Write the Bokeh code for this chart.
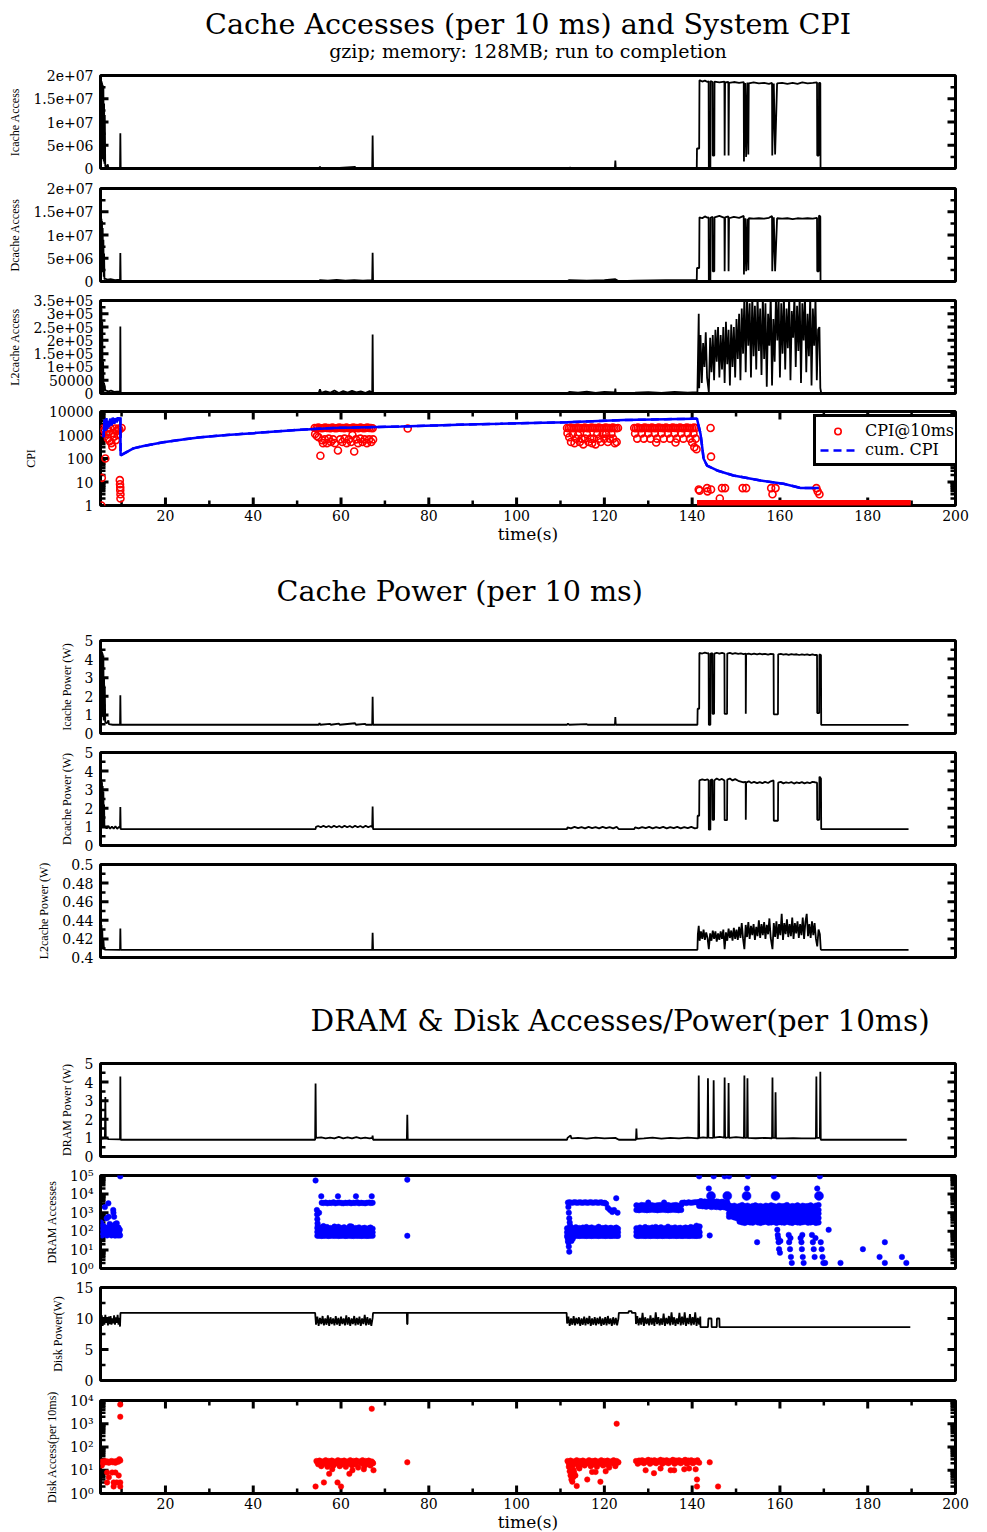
from bokeh.plotting import figure
from bokeh.layouts import column
from bokeh.models import Range1d, FixedTicker, Title, Legend, LegendItem, CustomJSTickFormatter
from bokeh.embed import file_html
from bokeh.resources import INLINE

# ------------------------------------------------------------------ axes data
X_RANGE = (5.2, 200.0)
X_TICKS = [20, 40, 60, 80, 100, 120, 140, 160, 180, 200]
X_MINOR = [10, 30, 50, 70, 90, 110, 130, 150, 170, 190]
X_LABELS = ["20", "40", "60", "80", "100", "120", "140", "160", "180", "200"]

ACC_TICKS = [0, 5e6, 1e7, 1.5e7, 2e7]
ACC_LABELS = ["0", "5e+06", "1e+07", "1.5e+07", "2e+07"]
ACC_MINOR = [2.5e6, 7.5e6, 1.25e7, 1.75e7]
L2_TICKS = [0, 5e4, 1e5, 1.5e5, 2e5, 2.5e5, 3e5, 3.5e5]
L2_LABELS = ["0", "50000", "1e+05", "1.5e+05", "2e+05", "2.5e+05", "3e+05", "3.5e+05"]
L2_MINOR = [2.5e4, 7.5e4, 1.25e5, 1.75e5, 2.25e5, 2.75e5, 3.25e5]
CPI_TICKS = [1, 10, 100, 1000, 10000]
CPI_LABELS = ["1", "10", "100", "1000", "10000"]
LOG_MINOR = [2, 3, 4, 5, 6, 7, 8, 9, 20, 30, 40, 50, 60, 70, 80, 90,
             200, 300, 400, 500, 600, 700, 800, 900, 2000, 3000, 4000, 5000,
             6000, 7000, 8000, 9000, 20000, 30000, 40000, 50000, 60000, 70000,
             80000, 90000]
PW_TICKS = [0, 1, 2, 3, 4, 5]
PW_LABELS = ["0", "1", "2", "3", "4", "5"]
PW_MINOR = [0.5, 1.5, 2.5, 3.5, 4.5]
L2PW_TICKS = [0.4, 0.42, 0.44, 0.46, 0.48, 0.5]
L2PW_LABELS = ["0.4", "0.42", "0.44", "0.46", "0.48", "0.5"]
L2PW_MINOR = [0.41, 0.43, 0.45, 0.47, 0.49]
DRACC_TICKS = [1, 10, 100, 1000, 10000, 100000]
DRACC_LABELS = ["10\u2070", "10\u00b9", "10\u00b2", "10\u00b3", "10\u2074", "10\u2075"]
DKPW_TICKS = [0, 5, 10, 15]
DKPW_LABELS = ["0", "5", "10", "15"]
DKPW_MINOR = [2.5, 7.5, 12.5]
DKACC_TICKS = [1, 10, 100, 1000, 10000]
DKACC_LABELS = ["10\u2070", "10\u00b9", "10\u00b2", "10\u00b3", "10\u2074"]

# ------------------------------------------------------------------ series (time s, value)
ICACHE_ACC = [
    (5.30, 1.92e7), (5.36, 3.0e6), (5.42, 1.88e7), (5.48, 5.0e6), (5.55, 1.85e7), (5.62, 2.0e6),
    (5.70, 1.80e7), (5.78, 4.0e6), (5.86, 1.75e7), (5.94, 1.5e6), (6.02, 1.40e7), (6.10, 1.0e6),
    (6.18, 1.15e7), (6.28, 5.0e5), (6.50, 3.0e5), (6.85, 9.0e5), (7.00, 2.0e5), (7.40, 1.0e5),
    (8.50, 1.0e5), (9.65, 1.0e5), (9.72, 7.6e6), (9.80, 5.0e4), (55.0, 5.0e4), (55.2, 4.0e5),
    (55.4, 5.0e4), (58.5, 1.2e5), (58.7, 5.0e4), (63.2, 3.5e5), (63.4, 5.0e4), (67.1, 1.0e5),
    (67.2, 7.1e6), (67.3, 5.0e4), (112.0, 5.0e4), (112.2, 2.0e5), (112.4, 5.0e4), (117.5, 1.5e5),
    (117.7, 5.0e4), (122.4, 1.0e5), (122.5, 1.7e6), (122.6, 5.0e4), (141.05, 1.0e5), (141.1, 4.3e6),
    (141.6, 4.3e6), (141.67, 1.90e7), (142.3, 1.87e7), (142.9, 1.89e7), (143.5, 1.86e7),
    (143.75, 1.88e7), (143.8, 0.0), (144.15, 0.0), (144.2, 1.88e7), (144.65, 1.86e7), (144.7, 2.8e6),
    (145.05, 2.8e6), (145.1, 1.87e7), (146.2, 1.85e7), (147.35, 1.87e7), (147.4, 2.8e6),
    (147.5, 1.85e7), (148.25, 1.86e7), (148.3, 2.8e6), (148.4, 1.84e7), (149.5, 1.86e7),
    (150.7, 1.84e7), (151.75, 1.86e7), (151.8, 1.5e6), (152.1, 1.84e7), (152.3, 2.5e6),
    (152.6, 1.85e7), (152.8, 3.0e6), (152.9, 1.83e7), (154.0, 1.85e7), (155.2, 1.83e7),
    (156.4, 1.84e7), (157.5, 1.82e7), (158.2, 1.84e7), (158.25, 2.8e6), (158.6, 1.83e7),
    (158.9, 3.0e6), (159.35, 1.83e7), (160.5, 1.84e7), (161.7, 1.82e7), (162.9, 1.84e7),
    (164.0, 1.82e7), (165.1, 1.85e7), (166.3, 1.83e7), (167.5, 1.84e7), (168.45, 1.85e7),
    (168.5, 2.8e6), (168.85, 2.8e6), (168.9, 1.84e7), (169.2, 1.84e7), (169.25, 0.0), (189.5, 0.0),
]

DCACHE_ACC = [
    (5.30, 1.37e7), (5.36, 3.0e6), (5.42, 1.35e7), (5.48, 5.0e6), (5.55, 1.30e7), (5.62, 2.0e6),
    (5.70, 1.15e7), (5.78, 3.0e6), (5.86, 9.0e6), (5.94, 1.0e6), (6.02, 6.0e6), (6.10, 5.0e5),
    (6.30, 6.0e5), (6.80, 4.0e5), (7.50, 5.0e5), (8.50, 3.0e5), (9.65, 4.0e5), (9.72, 6.1e6),
    (9.80, 5.0e4), (54.9, 5.0e4), (55.2, 3.0e5), (57.0, 2.0e5), (59.0, 3.5e5), (61.0, 2.0e5),
    (63.0, 3.0e5), (65.0, 2.0e5), (67.1, 3.0e5), (67.2, 6.2e6), (67.3, 5.0e4), (111.5, 5.0e4),
    (112.0, 3.0e5), (116.0, 2.0e5), (120.0, 3.0e5), (122.5, 5.0e5), (123.3, 5.0e4), (127.0, 2.0e5),
    (134.0, 3.0e5), (141.05, 3.0e5), (141.1, 2.9e6), (141.6, 2.9e6), (141.67, 1.38e7),
    (142.3, 1.36e7), (142.9, 1.40e7), (143.5, 1.37e7), (143.75, 1.38e7), (143.8, 0.0),
    (144.15, 0.0), (144.2, 1.37e7), (144.65, 1.39e7), (144.7, 2.2e6), (145.05, 2.2e6),
    (145.1, 1.38e7), (146.2, 1.41e7), (147.35, 1.37e7), (147.4, 2.2e6), (147.5, 1.38e7),
    (148.25, 1.40e7), (148.3, 2.2e6), (148.4, 1.36e7), (149.5, 1.39e7), (150.7, 1.37e7),
    (151.75, 1.41e7), (151.8, 1.5e6), (152.1, 1.36e7), (152.3, 2.2e6), (152.6, 1.35e7),
    (152.8, 2.4e6), (152.9, 1.36e7), (154.0, 1.35e7), (155.2, 1.36e7), (156.4, 1.35e7),
    (157.5, 1.37e7), (158.2, 1.41e7), (158.25, 2.2e6), (158.6, 1.38e7), (158.9, 2.2e6),
    (159.35, 1.36e7), (160.5, 1.35e7), (161.7, 1.36e7), (162.9, 1.34e7), (164.0, 1.36e7),
    (165.1, 1.35e7), (166.3, 1.36e7), (167.5, 1.35e7), (168.45, 1.37e7), (168.5, 2.2e6),
    (168.85, 2.2e6), (168.9, 1.42e7), (169.2, 1.40e7), (169.25, 0.0), (189.5, 0.0),
]

L2_ACC = [
    (5.30, 3.3e5), (5.36, 1.0e4), (5.42, 3.2e5), (5.50, 5.0e3), (5.60, 2.7e5), (5.70, 1.0e4),
    (5.80, 1.2e5), (5.90, 5.0e3), (6.00, 4.0e4), (6.30, 1.2e4), (7.00, 8.0e3), (7.60, 1.1e4),
    (8.30, 6.0e3), (9.65, 8.0e3), (9.72, 2.52e5), (9.80, 1.0e3), (54.9, 1.0e3), (55.2, 1.6e4),
    (55.5, 2.0e3), (56.5, 8.0e3), (57.5, 3.0e3), (58.5, 1.1e4), (59.5, 2.0e3), (60.5, 9.0e3),
    (61.5, 3.0e3), (62.5, 1.0e4), (63.5, 4.0e3), (64.5, 8.0e3), (65.5, 2.0e3), (66.5, 9.0e3),
    (67.1, 3.0e3), (67.2, 2.22e5), (67.3, 1.0e3), (111.5, 1.0e3), (112.0, 6.0e3), (114.0, 3.0e3),
    (116.0, 7.0e3), (118.0, 2.0e3), (120.0, 6.0e3), (122.4, 4.0e3), (122.5, 1.8e4), (122.6, 2.0e3),
    (123.3, 1.0e3), (127.0, 3.0e3), (130.0, 5.0e3), (133.0, 2.0e3), (136.0, 6.0e3), (139.0, 3.0e3),
    (141.2, 5.0e3), (141.5, 3.0e5), (141.6, 2.0e4), (141.9, 2.2e5), (142.2, 4.0e4), (142.5, 1.9e5),
    (142.8, 1.0e5), (143.1, 2.3e5), (143.4, 6.0e4), (143.8, 5.0e3), (144.1, 2.1e5), (144.4, 8.0e4),
    (144.7, 2.2e5), (145.0, 5.0e4), (145.3, 2.4e5), (145.6, 1.2e5), (145.9, 2.5e5), (146.2, 6.0e4),
    (146.5, 2.2e5), (146.8, 9.0e4), (147.1, 2.5e5), (147.4, 4.0e4), (147.7, 2.7e5), (148.0, 1.1e5),
    (148.3, 2.4e5), (148.6, 3.0e4), (148.9, 2.6e5), (149.2, 1.0e5), (149.5, 2.5e5), (149.8, 6.0e4),
    (150.1, 2.8e5), (150.4, 1.3e5), (150.7, 3.0e5), (151.0, 5.0e4), (151.3, 3.2e5), (151.6, 1.5e5),
    (151.9, 3.7e5), (152.2, 8.0e4), (152.5, 3.6e5), (152.8, 1.8e5), (153.1, 3.4e5), (153.4, 6.0e4),
    (153.7, 3.7e5), (154.0, 1.4e5), (154.3, 3.3e5), (154.6, 9.0e4), (154.9, 3.7e5), (155.2, 1.6e5),
    (155.5, 3.2e5), (155.8, 7.0e4), (156.1, 3.7e5), (156.4, 1.3e5), (156.7, 3.4e5), (157.0, 2.5e4),
    (157.3, 3.0e5), (157.6, 1.8e5), (157.9, 3.7e5), (158.2, 3.0e4), (158.5, 2.8e5), (158.8, 1.2e5),
    (159.1, 3.7e5), (159.4, 2.0e5), (159.7, 3.6e5), (160.0, 6.0e4), (160.3, 3.4e5), (160.6, 1.5e5),
    (160.9, 3.7e5), (161.2, 9.0e4), (161.5, 3.2e5), (161.8, 1.7e5), (162.1, 3.7e5), (162.4, 5.0e4),
    (162.7, 3.1e5), (163.0, 2.1e5), (163.3, 3.7e5), (163.6, 1.0e5), (163.9, 3.3e5), (164.2, 1.6e5),
    (164.5, 3.7e5), (164.8, 4.0e4), (165.1, 3.4e5), (165.4, 2.0e5), (165.7, 3.7e5), (166.0, 8.0e4),
    (166.3, 3.0e5), (166.6, 1.4e5), (166.9, 3.7e5), (167.2, 3.0e4), (167.5, 3.2e5), (167.8, 1.8e5),
    (168.1, 3.6e5), (168.4, 5.0e4), (168.7, 2.4e5), (169.0, 2.5e5), (169.2, 2.0e4), (169.4, 2.0e3),
    (189.5, 2.0e3),
]

CPI_CUM = [
    (5.9, 800), (6.1, 4500), (6.3, 1500), (6.5, 5200), (6.7, 1800), (6.9, 4000), (7.1, 2200),
    (7.4, 5000), (7.7, 2600), (8.0, 5500), (8.3, 3000), (8.6, 5200), (8.9, 3500), (9.2, 5600),
    (9.5, 4200), (9.72, 5600), (9.78, 135), (10.5, 160), (12.7, 270), (15.0, 340), (19.5, 490),
    (24.0, 650), (28.0, 800), (34.0, 1000), (40.0, 1200), (50.0, 1650), (58.3, 2000), (66.0, 2150),
    (73.6, 2300), (88.8, 2800), (96.3, 3000), (111.5, 3500), (124.4, 4300), (134.0, 4700),
    (140.4, 4900), (141.1, 4900), (141.9, 1130), (142.3, 300), (142.6, 100), (143.4, 50),
    (145.7, 31), (149.4, 19), (155.6, 11.5), (160.8, 8.4), (164.7, 5.6), (168.8, 5.6),
]

CPI_10MS = [
    # start-up
    (5.4, 1), (5.5, 15), (5.6, 1300), (5.8, 1900), (6.0, 1600), (6.3, 100), (6.5, 1100), (6.7, 1900),
    (6.9, 700), (7.1, 1400), (7.3, 550), (7.5, 1900), (7.7, 450), (7.9, 320), (8.1, 1200), (8.3, 850),
    (8.5, 1900), (8.7, 600), (8.9, 1500), (9.1, 1000), (9.3, 1900), (9.5, 1700), (9.6, 12), (9.65, 8),
    (9.7, 6), (9.7, 4.5), (9.75, 3), (9.75, 2), (10.0, 2000),
    # 54-67 s band
    (54.0, 2000), (54.4, 1950), (54.8, 2050), (55.2, 2000), (55.6, 1950), (56.0, 2000), (56.4, 2050),
    (56.8, 1980), (57.2, 2000), (57.6, 1950), (58.0, 2050), (58.4, 2000), (58.8, 1950), (59.2, 2000),
    (59.6, 2050), (60.0, 1980), (60.4, 2000), (60.8, 1950), (61.2, 2050), (61.6, 2000), (62.0, 1950),
    (62.4, 2000), (62.8, 2050), (63.2, 1980), (63.6, 2000), (64.0, 1950), (64.4, 2050), (64.8, 2000),
    (65.2, 1950), (65.6, 2000), (66.0, 2050), (66.4, 1980), (66.8, 2000), (67.2, 1950),
    (54.1, 1100), (54.5, 900), (54.9, 800), (55.3, 130), (55.7, 600), (55.9, 450), (56.3, 650),
    (56.8, 450), (57.2, 700), (57.7, 500), (58.2, 650), (58.6, 450), (59.3, 220), (59.8, 650),
    (60.3, 500), (60.8, 700), (61.3, 450), (61.8, 650), (62.3, 500), (62.6, 1000), (63.0, 200),
    (63.4, 650), (63.9, 450), (64.4, 700), (64.9, 500), (65.4, 650), (65.9, 450), (66.4, 650),
    (66.9, 500), (67.3, 650), (75.2, 1900),
    # 111-123 s band
    (111.5, 2000), (111.9, 1950), (112.3, 2050), (112.7, 2000), (113.1, 1950), (113.5, 2000),
    (113.9, 2050), (114.3, 1980), (114.7, 2000), (115.1, 1950), (115.5, 2050), (115.9, 2000),
    (116.3, 1950), (116.7, 2000), (117.1, 2050), (117.5, 1980), (117.9, 2000), (118.3, 1950),
    (118.7, 2050), (119.1, 2000), (119.5, 1950), (119.9, 2000), (120.3, 2050), (120.7, 1980),
    (121.1, 2000), (121.5, 1950), (121.9, 2050), (122.3, 2000), (122.7, 1950), (123.1, 2000),
    (111.6, 1200), (112.0, 800), (112.4, 500), (112.8, 1100), (113.2, 450), (113.6, 700),
    (114.0, 1000), (114.4, 500), (114.8, 700), (115.2, 400), (115.6, 700), (116.0, 1100),
    (116.4, 500), (116.8, 700), (117.2, 450), (117.6, 700), (118.0, 400), (118.4, 1100),
    (118.8, 700), (119.2, 500), (119.6, 1100), (120.0, 700), (120.4, 1100), (120.8, 500),
    (121.2, 700), (121.6, 1100), (122.0, 700), (122.4, 450), (122.8, 500),
    # 127-141 s band
    (126.8, 2000), (127.2, 1950), (127.6, 2050), (128.0, 2000), (128.4, 1950), (128.8, 2000),
    (129.2, 2050), (129.6, 1980), (130.0, 2000), (130.4, 1950), (130.8, 2050), (131.2, 2000),
    (131.6, 1950), (132.0, 2000), (132.4, 2050), (132.8, 1980), (133.2, 2000), (133.6, 1950),
    (134.0, 2050), (134.4, 2000), (134.8, 1950), (135.2, 2000), (135.6, 2050), (136.0, 1980),
    (136.4, 2000), (136.8, 1950), (137.2, 2050), (137.6, 2000), (138.0, 1950), (138.4, 2000),
    (138.8, 2050), (139.2, 1980), (139.6, 2000), (140.0, 1950), (140.4, 2050), (140.8, 2000),
    (127.0, 1150), (128.5, 1150), (130.0, 1150), (131.5, 1150), (133.0, 1150), (134.5, 1150),
    (136.0, 1150), (137.5, 1150), (139.0, 1150), (140.3, 1150),
    (127.5, 700), (129.0, 700), (130.5, 700), (132.0, 700), (133.5, 700), (135.0, 700),
    (136.5, 700), (138.0, 700), (139.5, 700), (140.8, 700),
    (131.8, 480), (136.2, 480), (140.0, 480), (140.5, 300), (141.0, 250),
    # after 141 s
    (144.2, 2000), (144.3, 120), (141.5, 4.8), (141.7, 4.3), (143.4, 5.5), (143.5, 4.0),
    (144.3, 4.8), (146.3, 2.0), (146.8, 5.5), (147.5, 5.5), (151.5, 5.5), (152.3, 5.5),
    (158.0, 5.5), (158.3, 3.0), (159.0, 5.5), (168.3, 5.5), (168.6, 4.0), (169.0, 3.0),
]
CPI_ONE = [(141.1, 1), (189.8, 1)]

ICACHE_PW = [
    (5.30, 4.55), (5.36, 0.8), (5.42, 4.5), (5.48, 1.2), (5.55, 4.4), (5.62, 0.9), (5.70, 4.3),
    (5.78, 1.5), (5.86, 4.2), (5.94, 0.7), (6.02, 3.0), (6.10, 0.7), (6.18, 2.5), (6.28, 0.6),
    (6.60, 0.55), (7.00, 0.7), (7.10, 0.5), (8.00, 0.47), (9.65, 0.47), (9.72, 2.05), (9.80, 0.47),
    (54.9, 0.47), (55.1, 0.56), (55.3, 0.47), (57.5, 0.52), (57.7, 0.47), (59.5, 0.53), (59.7, 0.47),
    (63.2, 0.55), (63.4, 0.47), (65.5, 0.52), (65.7, 0.47), (67.1, 0.47), (67.2, 1.97), (67.3, 0.47),
    (111.5, 0.47), (111.7, 0.53), (112.0, 0.47), (116.0, 0.5), (116.2, 0.47), (122.4, 0.47),
    (122.5, 0.88), (122.6, 0.47), (141.2, 0.47), (141.25, 1.33), (141.6, 1.33), (141.65, 4.33),
    (142.3, 4.30), (142.9, 4.35), (143.5, 4.31), (143.75, 4.32), (143.8, 0.47), (144.15, 0.47),
    (144.2, 4.3), (144.6, 4.32), (144.65, 1.06), (145.0, 1.06), (145.05, 4.3), (145.6, 4.34),
    (146.2, 4.29), (146.8, 4.33), (147.35, 4.29), (147.4, 1.05), (147.95, 1.05), (148.0, 4.3),
    (148.6, 4.33), (149.2, 4.28), (149.8, 4.32), (150.5, 4.28), (151.1, 4.31), (151.7, 4.27),
    (152.2, 4.29), (152.22, 1.06), (152.3, 4.27), (152.9, 4.30), (153.5, 4.26), (154.1, 4.29),
    (154.8, 4.25), (155.4, 4.29), (156.0, 4.26), (156.6, 4.28), (157.3, 4.24), (157.9, 4.28),
    (158.55, 4.27), (158.6, 1.03), (159.55, 1.03), (159.6, 4.25), (160.2, 4.28), (160.8, 4.24),
    (161.4, 4.27), (162.0, 4.23), (162.6, 4.27), (163.2, 4.24), (163.8, 4.26), (164.4, 4.22),
    (165.0, 4.26), (165.6, 4.23), (166.2, 4.25), (166.8, 4.21), (167.4, 4.25), (168.0, 4.22),
    (168.45, 4.23), (168.5, 1.1), (168.95, 1.1), (169.0, 4.25), (169.35, 4.22), (169.4, 0.46),
    (189.3, 0.46),
]

DCACHE_PW = [
    (5.30, 3.53), (5.36, 1.0), (5.42, 3.5), (5.48, 1.4), (5.55, 3.4), (5.62, 1.0), (5.70, 3.2),
    (5.78, 1.2), (5.86, 2.9), (5.94, 0.95), (6.02, 2.2), (6.10, 0.95), (6.3, 1.02), (6.6, 0.92),
    (7.0, 1.05), (7.4, 0.9), (7.8, 1.02), (8.2, 0.9), (8.6, 1.03), (9.0, 0.9), (9.4, 1.0),
    (9.65, 0.95), (9.72, 2.07), (9.80, 0.88), (54.2, 0.88), (54.3, 1.0), (54.8, 1.05), (55.4, 0.98),
    (56.0, 1.06), (56.6, 0.98), (57.2, 1.05), (57.8, 0.97), (58.4, 1.06), (59.0, 0.98), (59.6, 1.05),
    (60.2, 0.97), (60.8, 1.06), (61.4, 0.98), (62.0, 1.05), (62.6, 0.97), (63.2, 1.06), (63.8, 0.98),
    (64.4, 1.05), (65.0, 0.97), (65.6, 1.06), (66.2, 0.98), (66.8, 1.05), (67.1, 1.0), (67.2, 2.1),
    (67.3, 0.88), (111.5, 0.88), (111.6, 0.98), (112.4, 0.92), (113.2, 1.0), (114.0, 0.93),
    (114.8, 0.99), (115.6, 0.92), (116.4, 1.0), (117.2, 0.93), (118.0, 0.99), (118.8, 0.92),
    (119.6, 1.0), (120.4, 0.93), (121.2, 0.99), (122.0, 0.92), (122.8, 1.0), (123.3, 0.88),
    (126.8, 0.88), (127.0, 0.98), (127.8, 0.92), (128.6, 0.99), (129.4, 0.93), (130.2, 1.0),
    (131.0, 0.92), (131.8, 0.99), (132.6, 0.93), (133.4, 1.0), (134.2, 0.92), (135.0, 0.99),
    (135.8, 0.93), (136.6, 1.0), (137.4, 0.92), (138.2, 0.99), (139.0, 0.93), (139.8, 1.0),
    (140.6, 0.92), (141.2, 0.95), (141.25, 1.6), (141.6, 1.6), (141.65, 3.5), (142.3, 3.55),
    (142.9, 3.52), (143.5, 3.56), (143.75, 3.5), (143.8, 0.85), (144.15, 0.85), (144.2, 3.52),
    (144.6, 3.55), (144.65, 1.38), (145.0, 1.38), (145.05, 3.5), (145.6, 3.6), (146.2, 3.52),
    (146.8, 3.58), (147.35, 3.5), (147.4, 1.36), (147.95, 1.36), (148.0, 3.54), (148.6, 3.6),
    (149.2, 3.5), (149.8, 3.57), (150.5, 3.48), (151.1, 3.44), (151.7, 3.4), (152.2, 3.42),
    (152.22, 1.38), (152.3, 3.38), (152.9, 3.45), (153.5, 3.36), (154.1, 3.42), (154.8, 3.35),
    (155.4, 3.41), (156.0, 3.35), (156.6, 3.42), (157.3, 3.36), (157.9, 3.45), (158.55, 3.5),
    (158.6, 1.33), (159.55, 1.33), (159.6, 3.38), (160.2, 3.42), (160.8, 3.34), (161.4, 3.4),
    (162.0, 3.36), (162.6, 3.41), (163.2, 3.33), (163.8, 3.39), (164.4, 3.35), (165.0, 3.41),
    (165.6, 3.34), (166.2, 3.39), (166.8, 3.35), (167.4, 3.42), (168.0, 3.4), (168.45, 3.38),
    (168.5, 1.38), (168.95, 1.38), (169.0, 3.7), (169.35, 3.6), (169.4, 0.88), (189.3, 0.88),
]

L2_PW = [
    (5.30, 0.4364), (5.36, 0.412), (5.42, 0.435), (5.50, 0.411), (5.60, 0.430), (5.70, 0.410),
    (5.85, 0.420), (6.00, 0.409), (6.30, 0.4085), (9.65, 0.4083), (9.72, 0.4311), (9.80, 0.4083),
    (67.1, 0.4083), (67.2, 0.4265), (67.3, 0.4083), (141.2, 0.4083), (141.3, 0.425), (141.5, 0.434),
    (141.7, 0.418), (142.0, 0.428), (142.3, 0.420), (142.6, 0.430), (142.9, 0.419), (143.2, 0.427),
    (143.5, 0.421), (143.8, 0.409), (144.1, 0.426), (144.4, 0.418), (144.7, 0.429), (145.0, 0.420),
    (145.3, 0.428), (145.6, 0.417), (145.9, 0.426), (146.2, 0.419), (146.5, 0.428), (146.8, 0.420),
    (147.1, 0.430), (147.4, 0.409), (147.7, 0.427), (148.0, 0.418), (148.3, 0.431), (148.6, 0.421),
    (148.9, 0.429), (149.2, 0.418), (149.5, 0.432), (149.8, 0.420), (150.1, 0.430), (150.4, 0.419),
    (150.7, 0.433), (151.0, 0.421), (151.3, 0.437), (151.6, 0.420), (151.9, 0.409), (152.2, 0.435),
    (152.5, 0.422), (152.8, 0.438), (153.1, 0.420), (153.4, 0.434), (153.7, 0.424), (154.0, 0.436),
    (154.3, 0.419), (154.6, 0.433), (154.9, 0.423), (155.2, 0.440), (155.5, 0.421), (155.8, 0.436),
    (156.1, 0.424), (156.4, 0.438), (156.7, 0.420), (157.0, 0.435), (157.3, 0.425), (157.6, 0.442),
    (157.9, 0.421), (158.3, 0.409), (158.6, 0.437), (158.9, 0.422), (159.2, 0.439), (159.5, 0.420),
    (159.8, 0.436), (160.1, 0.424), (160.4, 0.447), (160.7, 0.419), (161.0, 0.437), (161.3, 0.425),
    (161.6, 0.441), (161.9, 0.422), (162.2, 0.436), (162.5, 0.423), (162.8, 0.443), (163.1, 0.420),
    (163.4, 0.437), (163.7, 0.426), (164.0, 0.439), (164.3, 0.421), (164.6, 0.436), (164.9, 0.424),
    (165.2, 0.443), (165.5, 0.420), (165.8, 0.438), (166.1, 0.447), (166.4, 0.423), (166.7, 0.436),
    (167.0, 0.421), (167.3, 0.439), (167.6, 0.424), (167.9, 0.437), (168.2, 0.420), (168.5, 0.412),
    (168.8, 0.430), (169.1, 0.425), (169.3, 0.409), (169.4, 0.4083), (189.3, 0.4083),
]

DRAM_PW = [
    (5.30, 0.95), (6.2, 1.0), (6.3, 3.2), (6.4, 1.02), (6.8, 1.0), (7.0, 0.93), (9.65, 0.92),
    (9.72, 4.3), (9.80, 0.9), (54.1, 0.9), (54.2, 3.92), (54.3, 1.0), (55.5, 1.03), (56.5, 0.98),
    (57.5, 1.02), (58.5, 0.97), (59.5, 1.05), (60.5, 0.98), (61.5, 1.03), (62.5, 0.97), (63.5, 1.04),
    (64.5, 0.98), (65.5, 1.02), (66.5, 0.97), (67.1, 1.0), (67.2, 1.12), (67.3, 0.9), (75.0, 0.9),
    (75.1, 2.25), (75.2, 0.9), (111.5, 0.9), (111.6, 1.0), (112.3, 1.13), (112.5, 0.97), (114.0, 1.0),
    (116.0, 0.96), (118.0, 1.01), (120.0, 0.97), (122.5, 1.0), (123.3, 0.9), (127.2, 0.9),
    (127.3, 1.5), (127.4, 0.95), (129.0, 0.97), (131.0, 1.01), (133.0, 0.96), (135.0, 1.0),
    (137.0, 0.97), (139.0, 1.02), (141.4, 0.97), (141.5, 4.35), (141.6, 1.0), (142.5, 1.03),
    (143.5, 1.0), (143.6, 4.2), (143.7, 1.02), (144.8, 1.0), (144.9, 4.1), (145.0, 1.02),
    (146.3, 1.05), (147.3, 1.02), (147.4, 4.25), (147.5, 1.0), (148.2, 1.03), (148.3, 3.95),
    (148.4, 1.0), (150.0, 1.04), (151.8, 1.0), (151.9, 4.35), (152.0, 1.0), (152.5, 1.02),
    (152.6, 4.2), (152.7, 1.0), (154.5, 0.98), (156.5, 1.0), (158.2, 0.98), (158.3, 4.25),
    (158.4, 1.0), (158.9, 1.0), (159.0, 3.45), (159.1, 0.98), (161.0, 0.97), (163.0, 0.99),
    (165.0, 0.97), (168.2, 0.98), (168.3, 4.3), (168.4, 1.0), (169.1, 1.0), (169.2, 4.55),
    (169.3, 0.9), (188.9, 0.9),
]

DRAM_ACC = [
    # start-up
    (5.3, 300), (5.4, 90), (5.5, 150), (5.6, 60), (5.8, 200), (5.9, 70), (6.0, 120), (6.2, 2000),
    (6.3, 90), (6.4, 160), (6.6, 500), (6.7, 60), (6.8, 130), (7.0, 3200), (7.05, 600), (7.1, 80),
    (7.3, 250), (7.4, 150), (7.5, 110), (7.7, 60), (7.8, 200), (7.9, 170), (8.1, 1400), (8.15, 1000),
    (8.2, 90), (8.3, 600), (8.4, 60), (8.5, 140), (8.6, 250), (8.7, 60), (8.9, 270), (9.0, 110),
    (9.1, 100), (9.2, 60), (9.3, 160), (9.4, 90), (9.5, 70), (9.6, 120), (9.65, 60), (9.7, 90000),
    # 54-67 s
    (54.2, 54000), (54.5, 1400), (54.55, 800), (54.6, 450), (54.65, 270), (54.7, 200), (55.0, 1000),
    (55.5, 7600), (59.3, 7600), (63.4, 7600), (67.0, 7600), (56.0, 190), (58.5, 180), (62.0, 185),
    (75.1, 60000), (75.1, 57),
    # 111-123 s
    (111.6, 45), (111.7, 30), (111.8, 25), (111.9, 15), (112.0, 8), (112.3, 35), (112.5, 30),
    (112.8, 40), (111.8, 2000), (111.9, 1000), (112.0, 500), (112.1, 300), (112.2, 200),
    (120.4, 3000), (120.8, 1800), (121.3, 1400), (121.8, 1100), (122.2, 1400), (123.0, 1000),
    (122.7, 6000),
    # 127-142 s
    (130.0, 3500), (133.6, 3500), (141.0, 200), (141.5, 120), (144.0, 60),
    # 141-170 s
    (141.6, 90000), (144.9, 90000), (147.4, 90000), (148.4, 90000), (152.7, 90000), (158.6, 90000),
    (169.1, 90000), (143.8, 20000), (152.5, 20000), (168.5, 20000),
    # below the main cloud
    (154.8, 26), (159.4, 120), (159.5, 64), (159.6, 43), (159.7, 26), (159.8, 11), (160.0, 7),
    (160.1, 30), (162.0, 64), (162.1, 26), (162.3, 11), (162.5, 4.2), (162.7, 2), (162.4, 43),
    (164.7, 43), (164.9, 26), (165.0, 11), (165.2, 4.2), (165.4, 2), (165.1, 64), (167.3, 64),
    (167.5, 26), (167.7, 11), (167.9, 4.2), (168.1, 43), (169.3, 26), (169.5, 11), (169.7, 4.2),
    (169.9, 2), (170.3, 2), (171.1, 120), (173.8, 2), (178.9, 11), (182.7, 4.2), (183.9, 26),
    (183.9, 2), (187.8, 4.2), (188.8, 2),
]
DRAM_ACC_BIG = [(144.3, 8000), (148.0, 8000), (152.4, 8000), (159.0, 8000), (168.9, 8000)]

DRAM_BAND_A_T = [54.6, 55.0, 55.5, 55.9, 56.3, 56.8, 57.2, 57.6, 58.1, 58.5, 58.9, 59.4, 59.8, 60.2,
                 60.7, 61.1, 61.5, 62.0, 62.4, 62.8, 63.3, 63.7, 64.1, 64.6, 65.0, 65.4, 65.9, 66.3,
                 66.7, 67.2]
DRAM_BAND_A_LOW = [57, 58, 56, 57, 58, 57, 56, 58, 57, 57, 58, 56, 57, 58, 57, 56, 57, 58, 57, 56,
                   58, 57, 57, 56, 58, 57, 56, 57, 58, 57]
DRAM_BAND_A_MID = [92, 85, 100, 88, 95, 84, 105, 90, 86, 98, 91, 83, 102, 89, 94, 86, 99, 90, 84,
                   96, 88, 101, 87, 93, 85, 97, 90, 84, 100, 88]
DRAM_BAND_A_HIGH = [150, 130, 160, 125, 145, 170, 135, 150, 128, 160, 140, 175, 130, 150, 165, 128,
                    145, 138, 180, 130, 150, 140, 162, 128, 148, 155, 130, 145, 160, 138]
DRAM_BAND_A_TOP_T = [55.6, 56.0, 56.5, 56.9, 57.4, 57.8, 58.3, 58.7, 59.2, 59.6, 60.1, 60.5, 61.0,
                     61.4, 61.9, 62.3, 62.8, 63.2, 63.7, 64.1, 64.6, 65.0, 65.5, 65.9, 66.4, 66.8, 67.2]
DRAM_BAND_A_TOP = [3400, 3300, 3500, 3200, 3400, 3300, 3600, 3200, 3400, 3500, 3300, 3200, 3400,
                   3300, 3500, 3200, 3400, 3300, 3600, 3200, 3400, 3300, 3200, 3400, 3500, 3300, 3400]

DRAM_BAND_B_T = [111.5, 111.9, 112.3, 112.7, 113.1, 113.5, 113.9, 114.3, 114.7, 115.1, 115.5, 115.9,
                 116.3, 116.7, 117.1, 117.5, 117.9, 118.3, 118.7, 119.1, 119.5, 119.9, 120.3, 120.7,
                 121.1, 121.5, 121.9, 122.3, 122.7, 123.1]
DRAM_BAND_B_LOW = [56, 58, 57, 57, 56, 58, 57, 56, 58, 57, 57, 56, 58, 57, 56, 57, 58, 57, 56, 58,
                   57, 57, 56, 58, 57, 56, 57, 58, 57, 56]
DRAM_BAND_B_MID = [90, 84, 98, 88, 95, 86, 102, 90, 85, 97, 89, 84, 100, 88, 93, 86, 98, 90, 84,
                   96, 88, 100, 86, 93, 85, 97, 90, 84, 99, 88]
DRAM_BAND_B_HIGH = [145, 130, 160, 128, 148, 165, 135, 150, 128, 158, 140, 170, 130, 150, 162, 128,
                    145, 138, 175, 130, 150, 140, 160, 128, 148, 155, 130, 145, 158, 138]
DRAM_BAND_B_TOP_T = [111.7, 112.1, 112.5, 112.9, 113.3, 113.7, 114.1, 114.5, 114.9, 115.3, 115.7,
                     116.1, 116.5, 116.9, 117.3, 117.7, 118.1, 118.5, 118.9, 119.3, 119.7, 120.1]
DRAM_BAND_B_TOP = [3500, 3600, 3400, 3500, 3700, 3400, 3500, 3600, 3400, 3500, 3600, 3400, 3500,
                   3700, 3400, 3500, 3600, 3400, 3500, 3600, 3300, 3400]

DRAM_BAND_C_T = [127.3, 127.7, 128.1, 128.5, 128.9, 129.3, 129.7, 130.1, 130.5, 130.9, 131.3, 131.7,
                 132.1, 132.5, 132.9, 133.3, 133.7, 134.1, 134.5, 134.9, 135.3, 135.7, 136.1, 136.5,
                 136.9, 137.3, 137.7, 138.1, 138.5, 138.9, 139.3, 139.7, 140.1, 140.5, 140.9, 141.3,
                 141.7]
DRAM_BAND_C_LOW = [57, 56, 58, 57, 57, 56, 58, 57, 56, 58, 57, 57, 56, 58, 57, 56, 57, 58, 57, 56,
                   58, 57, 57, 56, 58, 57, 56, 57, 58, 57, 56, 58, 57, 57, 56, 58, 57]
DRAM_BAND_C_MID = [92, 85, 100, 88, 95, 84, 105, 90, 86, 98, 91, 83, 102, 89, 94, 86, 99, 90, 84,
                   96, 88, 101, 87, 93, 85, 97, 90, 84, 100, 88, 95, 86, 98, 90, 85, 97, 89]
DRAM_BAND_C_HIGH = [148, 132, 160, 126, 146, 168, 134, 150, 128, 160, 142, 172, 130, 150, 164, 128,
                    146, 138, 178, 130, 150, 140, 162, 128, 148, 155, 130, 145, 160, 138, 150, 170,
                    140, 160, 135, 150, 180]
DRAM_BAND_C_UP_T = [127.3, 127.9, 128.5, 129.1, 129.7, 130.3, 130.9, 131.5, 132.1, 132.7, 133.3,
                    133.9, 134.5, 135.1, 135.7, 136.3, 136.9, 137.5]
DRAM_BAND_C_UP1 = [2500, 2400, 2600, 2500, 2400, 2600, 2500, 2400, 2500, 2600, 2400, 2500, 2600,
                   2400, 2500, 2600, 2400, 2500]
DRAM_BAND_C_UP2 = [1400, 1350, 1450, 1400, 1350, 1400, 1450, 1400, 1350, 1400, 1450, 1400, 1350,
                   1400, 1450, 1400, 1350, 1400]
DRAM_BAND_C_TOP_T = [137.7, 138.2, 138.7, 139.2, 139.7, 140.2, 140.7, 141.2]
DRAM_BAND_C_TOP = [3400, 3500, 3300, 3600, 3400, 3500, 3700, 3600]

DRAM_CLOUD1_T = [141.6, 142.0, 142.4, 142.8, 143.2, 143.6, 144.0, 144.4, 144.8, 145.2, 145.6, 146.0,
                 146.4, 146.8, 147.2, 147.6, 148.0]
DRAM_CLOUD1_R1 = [3800, 4200, 3600, 4000, 3900, 3500, 4100, 3700, 3900, 3600, 4000, 3800, 3500,
                  3900, 3700, 3400, 3600]
DRAM_CLOUD1_R2 = [3000, 2900, 3100, 2800, 3000, 2700, 2900, 3000, 2800, 2600, 2900, 2700, 2800,
                  2600, 2700, 2500, 2600]
DRAM_CLOUD1_R3 = [2300, 2400, 2200, 2300, 2100, 2300, 2200, 2000, 2200, 2100, 2000, 2200, 1900,
                  2100, 2000, 1900, 1800]
DRAM_CLOUD2_T = [148.4, 149.0, 149.6, 150.2, 150.8, 151.4, 152.0, 152.6, 153.2, 153.8, 154.4, 155.0,
                 155.6, 156.2, 156.8, 157.4, 158.0, 158.6, 159.2, 159.8, 160.4, 161.0, 161.6, 162.2,
                 162.8, 163.4, 164.0, 164.6, 165.2, 165.8, 166.4, 167.0, 167.6, 168.2, 168.8]
DRAM_CLOUD2_R1 = [2500, 2200, 2400, 2100, 2300, 2600, 2200, 2400, 2100, 2300, 2500, 2200, 2300,
                  2100, 2400, 2200, 2500, 2300, 2100, 2400, 2200, 2300, 2600, 2100, 2300, 2200, 2500,
                  2100, 2400, 2200, 2300, 2500, 2100, 2400, 2600]
DRAM_CLOUD2_R2 = [1500, 1300, 1400, 1600, 1300, 1400, 1500, 1300, 1400, 1600, 1300, 1500, 1400,
                  1300, 1500, 1400, 1600, 1300, 1400, 1500, 1300, 1400, 1600, 1300, 1500, 1400, 1300,
                  1500, 1400, 1600, 1300, 1400, 1500, 1300, 1400]
DRAM_CLOUD2_R3 = [900, 800, 850, 950, 800, 900, 850, 800, 900, 850, 950, 800, 850, 900, 800, 850,
                  950, 800, 900, 850, 800, 900, 850, 950, 800, 850, 900, 800, 850, 950, 800, 900,
                  850, 800, 900]
DRAM_CLOUD2_R4 = [600, 620, 560, 500, 520, 480, 540, 500, 470, 520, 500, 540, 480, 520, 500, 460,
                  530, 500, 480, 520, 500, 470, 540, 500, 480, 520, 500, 460, 520, 500, 480, 540,
                  500, 470, 520]
DRAM_CLOUD3_T = [150.8, 151.4, 152.0, 152.6, 153.2, 153.8, 154.4, 155.0, 155.6, 156.2, 156.8, 157.4,
                 158.0, 158.6, 159.2, 159.8, 160.4, 161.0, 161.6, 162.2, 162.8, 163.4, 164.0, 164.6,
                 165.2, 165.8, 166.4, 167.0, 167.6, 168.2, 168.8]
DRAM_CLOUD3_R5 = [330, 300, 280, 320, 300, 290, 340, 300, 280, 310, 330, 290, 300, 320, 280, 310,
                  300, 290, 330, 300, 280, 320, 300, 290, 310, 330, 290, 300, 320, 280, 300]

DISK_PW = [
    (5.3, 9.2), (5.5, 10.5), (5.7, 8.8), (5.9, 10.1), (6.1, 9.0), (6.3, 10.6), (6.5, 9.3), (6.7, 10.0),
    (6.9, 8.9), (7.1, 10.3), (7.3, 9.1), (7.5, 10.4), (7.7, 9.0), (7.9, 10.0), (8.1, 9.2), (8.3, 10.5),
    (8.5, 9.0), (8.7, 10.2), (8.9, 9.3), (9.1, 10.6), (9.3, 9.0), (9.5, 10.1), (9.65, 8.7),
    (9.75, 10.92), (54.1, 10.92),
    (54.3, 9.0), (54.6, 10.3), (54.9, 8.8), (55.2, 10.1), (55.5, 9.1), (55.8, 10.4), (56.1, 8.9),
    (56.4, 10.0), (56.7, 9.0), (57.0, 10.5), (57.3, 8.8), (57.6, 10.2), (57.9, 9.1), (58.2, 10.0),
    (58.5, 8.9), (58.8, 10.4), (59.1, 9.0), (59.4, 10.1), (59.7, 8.8), (60.0, 10.3), (60.3, 9.1),
    (60.6, 10.0), (60.9, 8.9), (61.2, 10.5), (61.5, 9.0), (61.8, 10.2), (62.1, 8.8), (62.4, 10.0),
    (62.7, 9.1), (63.0, 10.4), (63.3, 8.9), (63.6, 10.1), (63.9, 9.0), (64.2, 10.3), (64.5, 8.8),
    (64.8, 10.0), (65.1, 9.1), (65.4, 10.6), (65.7, 8.9), (66.0, 10.2), (66.3, 9.0), (66.6, 10.0),
    (66.9, 8.8), (67.2, 10.1), (67.3, 10.92), (75.0, 10.92), (75.05, 9.1), (75.15, 9.1),
    (75.2, 10.92), (111.4, 10.92),
    (111.5, 9.2), (111.8, 10.3), (112.1, 8.8), (112.4, 10.0), (112.7, 9.0), (113.0, 10.4), (113.3, 8.9),
    (113.6, 10.1), (113.9, 9.1), (114.2, 10.2), (114.5, 8.8), (114.8, 10.0), (115.1, 9.0), (115.4, 10.3),
    (115.7, 8.9), (116.0, 10.1), (116.3, 9.1), (116.6, 10.4), (116.9, 8.8), (117.2, 10.0), (117.5, 9.0),
    (117.8, 10.2), (118.1, 8.9), (118.4, 10.1), (118.7, 9.1), (119.0, 10.3), (119.3, 8.8), (119.6, 10.0),
    (119.9, 9.0), (120.2, 10.2), (120.5, 8.9), (120.8, 10.4), (121.1, 9.1), (121.4, 10.0), (121.7, 8.8),
    (122.0, 10.2), (122.3, 9.0), (122.6, 10.1), (122.9, 8.9), (123.2, 10.0), (123.3, 10.92),
    (125.5, 10.92), (125.55, 11.2), (126.2, 11.2), (126.25, 10.92), (127.1, 10.92),
    (127.2, 9.1), (127.5, 10.4), (127.8, 8.9), (128.1, 10.1), (128.4, 9.0), (128.7, 10.9), (129.0, 8.8),
    (129.3, 10.2), (129.6, 9.1), (129.9, 10.0), (130.2, 8.9), (130.5, 10.5), (130.8, 9.0), (131.1, 10.1),
    (131.4, 8.8), (131.7, 11.0), (132.0, 9.1), (132.3, 10.2), (132.6, 8.9), (132.9, 10.0), (133.2, 9.0),
    (133.5, 10.8), (133.8, 8.8), (134.1, 10.1), (134.4, 9.1), (134.7, 10.4), (135.0, 8.9), (135.3, 11.0),
    (135.6, 9.0), (135.9, 10.2), (136.2, 8.8), (136.5, 10.0), (136.8, 9.1), (137.1, 10.9), (137.4, 8.9),
    (137.7, 10.3), (138.0, 9.0), (138.3, 11.0), (138.6, 8.8), (138.9, 10.1), (139.2, 9.1), (139.5, 10.7),
    (139.8, 8.9), (140.1, 10.2), (140.4, 9.0), (140.7, 11.0), (141.0, 8.8), (141.3, 10.1), (141.6, 9.0),
    (141.85, 10.3), (141.9, 8.6), (143.6, 8.6), (143.7, 10.0), (144.4, 10.0), (144.45, 8.6),
    (145.6, 8.6), (145.65, 10.0), (146.2, 10.0), (146.25, 8.6), (189.7, 8.6),
]

DISK_ACC = [
    # start-up
    (5.3, 22), (5.6, 24), (5.9, 21), (6.2, 25), (6.5, 22), (6.8, 24), (7.1, 21), (7.4, 23), (7.7, 25),
    (8.0, 22), (8.3, 24), (8.6, 21), (8.9, 25), (9.2, 23), (9.5, 30), (9.7, 26), (5.5, 16), (6.7, 8),
    (7.1, 5), (7.85, 8), (8.6, 8), (9.35, 6), (6.7, 3), (8.2, 3), (8.9, 3), (9.7, 3), (8.2, 2),
    (9.7, 2), (9.7, 6700), (9.7, 2000),
    # 54-67 s
    (54.4, 25), (54.8, 18), (55.1, 26), (55.5, 15), (55.8, 24), (56.2, 19), (56.5, 27), (56.9, 14),
    (57.2, 25), (57.6, 18), (57.9, 26), (58.3, 16), (58.6, 24), (59.0, 20), (59.3, 27), (59.7, 15),
    (60.0, 25), (60.4, 18), (60.7, 26), (61.1, 14), (61.4, 24), (61.8, 19), (62.1, 27), (62.5, 16),
    (62.8, 25), (63.2, 18), (63.5, 26), (63.9, 13), (64.2, 24), (64.6, 20), (64.9, 27), (65.3, 15),
    (65.6, 25), (66.0, 18), (66.3, 26), (66.7, 16), (67.0, 24), (67.3, 20), (54.6, 22), (55.3, 21),
    (56.0, 23), (56.7, 21), (57.4, 22), (58.1, 23), (58.8, 21), (59.5, 22), (60.2, 23), (60.9, 21),
    (61.6, 22), (62.3, 23), (63.0, 21), (63.7, 22), (64.4, 23), (65.1, 21), (65.8, 22), (66.5, 23),
    (67.2, 21), (54.2, 2), (56.1, 3), (57.3, 7), (59.2, 3), (60.0, 2), (61.9, 7), (58.0, 11),
    (62.6, 10), (65.2, 11), (67.4, 10), (67.0, 4400), (75.1, 22),
    # 111-123 s
    (111.6, 25), (112.0, 18), (112.3, 26), (112.7, 15), (113.0, 24), (113.4, 19), (113.7, 27),
    (114.1, 14), (114.4, 25), (114.8, 18), (115.1, 26), (115.5, 16), (115.8, 24), (116.2, 20),
    (116.5, 27), (116.9, 15), (117.2, 25), (117.6, 18), (117.9, 26), (118.3, 14), (118.6, 24),
    (119.0, 19), (119.3, 27), (119.7, 16), (120.0, 25), (120.4, 18), (120.7, 26), (121.1, 13),
    (121.4, 24), (121.8, 20), (122.1, 27), (122.5, 15), (122.8, 25), (123.2, 22), (111.8, 22),
    (112.5, 21), (113.2, 23), (113.9, 22), (114.6, 21), (115.3, 23), (116.0, 22), (116.7, 21),
    (117.4, 23), (118.1, 22), (118.8, 21), (119.5, 23), (120.2, 22), (120.9, 21), (121.6, 23),
    (122.3, 22), (123.0, 21), (111.9, 14), (112.1, 9), (112.3, 6), (112.5, 4), (112.7, 3.2),
    (112.9, 5), (113.1, 8), (113.4, 6), (113.7, 2.1), (113.0, 10), (114.3, 12), (116.1, 4),
    (117.2, 8.5), (118.0, 8.5), (119.1, 3.2), (120.3, 9), (122.8, 1000),
    # 127-142 s
    (127.2, 25), (127.6, 19), (127.9, 26), (128.3, 22), (128.6, 27), (129.0, 20), (129.3, 25),
    (129.7, 23), (130.0, 28), (130.4, 19), (130.7, 26), (131.1, 22), (131.4, 27), (131.8, 20),
    (132.1, 25), (132.5, 23), (132.8, 28), (133.2, 19), (133.5, 26), (133.9, 22), (134.2, 27),
    (134.6, 20), (134.9, 25), (135.3, 23), (135.6, 28), (136.0, 19), (136.3, 26), (136.7, 22),
    (137.0, 27), (137.4, 20), (137.7, 25), (138.1, 23), (138.4, 28), (138.8, 19), (139.1, 26),
    (139.5, 22), (139.8, 27), (140.2, 20), (140.5, 25), (140.9, 23), (141.2, 27), (141.6, 21),
    (129.4, 10), (131.3, 7.5), (132.8, 12), (135.1, 10), (135.9, 10), (138.2, 11), (139.3, 12),
    (140.8, 11), (141.1, 4), (141.1, 2), (144.0, 22), (145.9, 2),
]

# ------------------------------------------------------------------ helpers
FONT = "DejaVu Serif"
YFONT = "Liberation Serif"
FRAME_W = 855
LINE_W = 1.8
JS_FMT = """
for (let i = 0; i < vals.length; i++) {
  const v = vals[i];
  if (tick == v || Math.abs(tick - v) <= 1e-6 * Math.abs(v)) { return labs[i]; }
}
return "";
"""


def fmt(vals, labs):
    return CustomJSTickFormatter(args=dict(vals=[float(v) for v in vals], labs=list(labs)), code=JS_FMT)


def style_axis(ax):
    ax.axis_line_color = None
    ax.major_tick_in = 0
    ax.major_tick_out = 0
    ax.minor_tick_in = 0
    ax.minor_tick_out = 0
    ax.major_tick_line_color = None
    ax.minor_tick_line_color = None
    ax.major_label_text_font = FONT
    ax.major_label_text_color = "black"
    ax.major_label_text_font_size = "14px"
    ax.major_label_standoff = 7
    ax.axis_label_text_font = YFONT
    ax.axis_label_text_font_size = "12px"
    ax.axis_label_text_font_style = "normal"
    ax.axis_label_text_color = "black"
    ax.axis_label_standoff = 8


def add_ticks(p, yt, ym, yr, log, fh, xticks):
    """gnuplot-style inward ticks on all framed sides"""
    x0, x1 = X_RANGE
    ppx = (x1 - x0) / FRAME_W
    for vals, ln, w in ((yt, 8, 3.0), (ym, 5, 2.5)):
        n = len(vals)
        p.segment(x0=[x0] * n, y0=vals, x1=[x0 + ln * ppx] * n, y1=vals, line_color="black", line_width=w)
        p.segment(x0=[x1] * n, y0=vals, x1=[x1 - ln * ppx] * n, y1=vals, line_color="black", line_width=w)
    if xticks:
        lo, hi = yr
        for vals, ln, w in ((X_TICKS, 8, 3.0), (X_MINOR, 5, 2.5)):
            n = len(vals)
            if log:
                f = (hi / lo) ** (ln / fh)
                yb, yu = lo * f, hi / f
            else:
                d = (hi - lo) * ln / fh
                yb, yu = lo + d, hi - d
            p.segment(x0=vals, y0=[lo] * n, x1=vals, y1=[yb] * n, line_color="black", line_width=w)
            p.segment(x0=vals, y0=[hi] * n, x1=vals, y1=[yu] * n, line_color="black", line_width=w)


def panel(top, bottom, fh, yr, log, ylabel, yt, yl, ym, xaxis=False):
    p = figure(frame_width=FRAME_W, frame_height=fh, x_range=Range1d(*X_RANGE), y_range=Range1d(*yr),
               y_axis_type="log" if log else "linear",
               x_axis_location="below" if xaxis else None, title=None,
               min_border_left=100, min_border_right=32, min_border_top=top,
               min_border_bottom=bottom, output_backend="svg", toolbar_location=None,
               background_fill_color="white", border_fill_color="white")
    p.grid.visible = False
    p.outline_line_color = "black"
    p.outline_line_width = 3
    ya = p.yaxis[0]
    ya.ticker = FixedTicker(ticks=yt, minor_ticks=ym)
    ya.formatter = fmt(yt, yl)
    ya.axis_label = ylabel
    style_axis(ya)
    if xaxis:
        xa = p.xaxis[0]
        xa.ticker = FixedTicker(ticks=X_TICKS, minor_ticks=X_MINOR)
        xa.formatter = fmt(X_TICKS, X_LABELS)
        style_axis(xa)
        xa.major_label_standoff = 4
        xa.axis_label = "time(s)"
        xa.axis_label_text_font = FONT
        xa.axis_label_text_font_size = "17px"
        xa.axis_label_standoff = 0
    add_ticks(p, yt, ym, yr, log, fh, xaxis)
    return p


def xs(pts):
    return [a for a, b in pts]


def ys(pts):
    return [b for a, b in pts]


def black_line(p, pts):
    return p.line(xs(pts), ys(pts), line_color="black", line_width=LINE_W)


def dots(p, t, v, color, size=5.5):
    return p.scatter(t, v, marker="circle", size=size, fill_color=color, line_color=color, line_width=0.5)


def big_title(text, size="28.6px", **kw):
    return Title(text=text, text_font=FONT, text_font_size=size, text_font_style="normal",
                 text_color="black", **kw)


# ------------------------------------------------------------------ group 1
p1 = panel(75, 10, 93, (0, 2e7), False, "Icache Access", ACC_TICKS, ACC_LABELS, ACC_MINOR)
black_line(p1, ICACHE_ACC)
p1.add_layout(Title(text="gzip; memory: 128MB; run to completion", align="center", text_font=FONT,
                    text_font_size="19px", text_font_style="normal", text_color="black",
                    standoff=27), "above")
p1.add_layout(big_title("Cache Accesses (per 10 ms) and System CPI", align="center", standoff=-32),
              "above")

p2 = panel(10, 9, 93, (0, 2e7), False, "Dcache Access", ACC_TICKS, ACC_LABELS, ACC_MINOR)
black_line(p2, DCACHE_ACC)

p3 = panel(10, 9, 93, (0, 3.5e5), False, "L2cache Access", L2_TICKS, L2_LABELS, L2_MINOR)
black_line(p3, L2_ACC)

p4 = panel(9, 128, 94, (1, 10000), True, "CPI", CPI_TICKS, CPI_LABELS, LOG_MINOR, xaxis=True)
p4.line(xs(CPI_ONE), ys(CPI_ONE), line_color="red", line_width=11)
r_cpi = p4.scatter(xs(CPI_10MS), ys(CPI_10MS), marker="circle", size=7, fill_color=None,
                   line_color="red", line_width=1.6)
r_leg = p4.line(xs(CPI_CUM), ys(CPI_CUM), line_color="blue", line_width=2.5, line_dash="8 5")
p4.line(xs(CPI_CUM), ys(CPI_CUM), line_color="blue", line_width=2.5)
legend = Legend(items=[LegendItem(label="CPI@10ms", renderers=[r_cpi]),
                       LegendItem(label="cum. CPI", renderers=[r_leg])],
                location=(713, 39), border_line_color="black", border_line_width=3,
                border_line_alpha=1.0, background_fill_color="white", background_fill_alpha=1.0,
                label_text_font=FONT, label_text_font_size="16px", label_text_color="black",
                glyph_width=35, glyph_height=16, label_height=17, label_width=86,
                label_standoff=10, padding=4, spacing=0, margin=0)
p4.add_layout(legend, "center")
p4.add_layout(big_title("Cache Power (per 10 ms)", align="left", offset=176, standoff=51), "below")

# ------------------------------------------------------------------ group 2
p5 = panel(7, 9, 93, (0, 5), False, "Icache Power (W)", PW_TICKS, PW_LABELS, PW_MINOR)
black_line(p5, ICACHE_PW)

p6 = panel(10, 9, 93, (0, 5), False, "Dcache Power (W)", PW_TICKS, PW_LABELS, PW_MINOR)
black_line(p6, DCACHE_PW)

p7 = panel(10, 17, 93, (0.4, 0.5), False, "L2cache Power (W)", L2PW_TICKS, L2PW_LABELS, L2PW_MINOR)
black_line(p7, L2_PW)

# ------------------------------------------------------------------ group 3
p8 = panel(89, 9, 93, (0, 5), False, "DRAM Power (W)", PW_TICKS, PW_LABELS, PW_MINOR)
black_line(p8, DRAM_PW)
p8.add_layout(big_title("DRAM & Disk Accesses/Power(per 10ms)", size="29.5px", align="left",
                        offset=210, standoff=52), "above")

p9 = panel(10, 9, 93, (1, 1e5), True, "DRAM Accesses", DRACC_TICKS, DRACC_LABELS, LOG_MINOR)
BLUE = "blue"
dots(p9, xs(DRAM_ACC), ys(DRAM_ACC), BLUE)
dots(p9, xs(DRAM_ACC_BIG), ys(DRAM_ACC_BIG), BLUE, size=9)
for t, v in [(DRAM_BAND_A_T, DRAM_BAND_A_LOW), (DRAM_BAND_A_T, DRAM_BAND_A_MID),
             (DRAM_BAND_A_T, DRAM_BAND_A_HIGH), (DRAM_BAND_A_TOP_T, DRAM_BAND_A_TOP),
             (DRAM_BAND_B_T, DRAM_BAND_B_LOW), (DRAM_BAND_B_T, DRAM_BAND_B_MID),
             (DRAM_BAND_B_T, DRAM_BAND_B_HIGH), (DRAM_BAND_B_TOP_T, DRAM_BAND_B_TOP),
             (DRAM_BAND_C_T, DRAM_BAND_C_LOW), (DRAM_BAND_C_T, DRAM_BAND_C_MID),
             (DRAM_BAND_C_T, DRAM_BAND_C_HIGH), (DRAM_BAND_C_UP_T, DRAM_BAND_C_UP1),
             (DRAM_BAND_C_UP_T, DRAM_BAND_C_UP2), (DRAM_BAND_C_TOP_T, DRAM_BAND_C_TOP),
             (DRAM_CLOUD1_T, DRAM_CLOUD1_R1), (DRAM_CLOUD1_T, DRAM_CLOUD1_R2),
             (DRAM_CLOUD1_T, DRAM_CLOUD1_R3), (DRAM_CLOUD2_T, DRAM_CLOUD2_R1),
             (DRAM_CLOUD2_T, DRAM_CLOUD2_R2), (DRAM_CLOUD2_T, DRAM_CLOUD2_R3),
             (DRAM_CLOUD2_T, DRAM_CLOUD2_R4), (DRAM_CLOUD3_T, DRAM_CLOUD3_R5)]:
    dots(p9, t, v, BLUE)

p10 = panel(10, 9, 93, (0, 15), False, "Disk Power(W)", DKPW_TICKS, DKPW_LABELS, DKPW_MINOR)
black_line(p10, DISK_PW)

p11 = panel(11, 40, 93, (1, 1e4), True, "Disk Access(per 10ms)", DKACC_TICKS, DKACC_LABELS,
            LOG_MINOR, xaxis=True)
dots(p11, xs(DISK_ACC), ys(DISK_ACC), "red")

layout = column(p1, p2, p3, p4, p5, p6, p7, p8, p9, p10, p11, spacing=0)
open("out.html", "w").write(file_html(layout, INLINE))
